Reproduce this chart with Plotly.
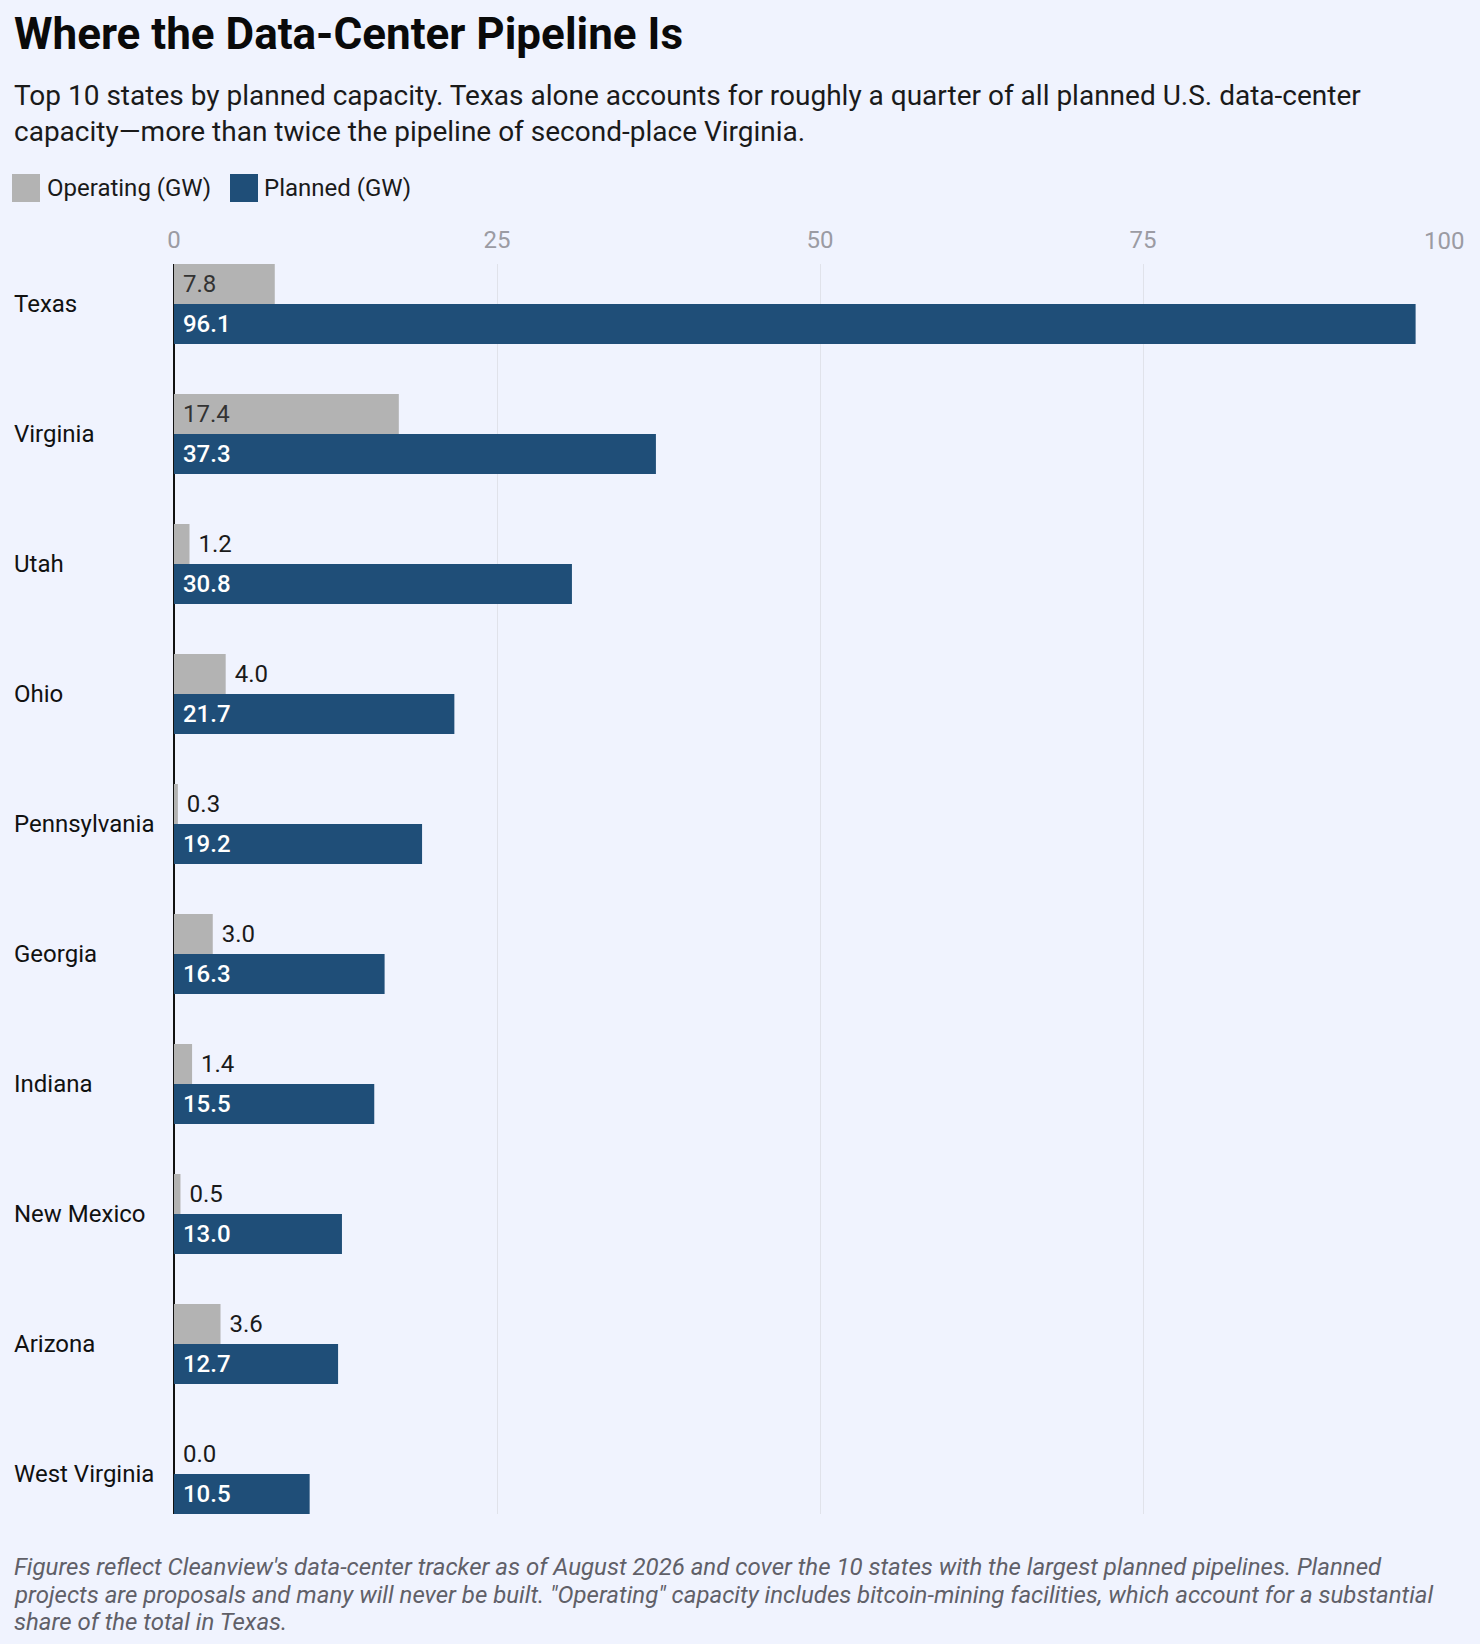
import plotly.graph_objects as go

# Data (GW), top 10 states by planned capacity
states = ["Texas", "Virginia", "Utah", "Ohio", "Pennsylvania", "Georgia",
          "Indiana", "New Mexico", "Arizona", "West Virginia"]
operating_gw = [7.8, 17.4, 1.2, 4.0, 0.3, 3.0, 1.4, 0.5, 3.6, 0.0]
planned_gw = [96.1, 37.3, 30.8, 21.7, 19.2, 16.3, 15.5, 13.0, 12.7, 10.5]
x_ticks = [0, 25, 50, 75, 100]
x_tick_text = ["0", "25", "50", "75", ""]  # "100" drawn right-aligned below

TITLE = "Where the Data-Center Pipeline Is"
SUBTITLE = ("Top 10 states by planned capacity. Texas alone accounts for roughly a quarter of all "
            "planned U.S. data-center<br>capacity\u2014more than twice the pipeline of second-place Virginia.")
NOTE_LINES = [
    "Figures reflect Cleanview's data-center tracker as of August 2026 and cover the 10 states with "
    "the largest planned pipelines. Planned",
    "projects are proposals and many will never be built. \"Operating\" capacity includes "
    "bitcoin-mining facilities, which account for a substantial",
    "share of the total in Texas.",
]

# Styling
FONT = "Roboto"
BG = "#f0f3fe"
GREY = "#b3b3b3"
BLUE = "#1f4e78"
W, H = 1480, 1644
PLOT_L, PLOT_R, PLOT_T, PLOT_B = 174, 1466, 264, 1514


def px_x(px):
    return (px - PLOT_L) / (PLOT_R - PLOT_L)


def px_y(py):
    return (PLOT_B - py) / (PLOT_B - PLOT_T)


fig = go.Figure()

fig.add_trace(go.Bar(
    y=states, x=operating_gw, orientation="h", name="Operating (GW)",
    marker=dict(color=GREY, line=dict(width=0)),
    text=[f"\u00a0{v:.1f}" for v in operating_gw],
    textposition=["inside" if v >= 5 else "outside" for v in operating_gw],
    insidetextanchor="start", textangle=0, constraintext="none",
    insidetextfont=dict(family=FONT, size=24, color="#333333"),
    outsidetextfont=dict(family=FONT, size=24, color="#1a1a1a"),
    cliponaxis=False, hoverinfo="skip",
))

fig.add_trace(go.Bar(
    y=states, x=planned_gw, orientation="h", name="Planned (GW)",
    marker=dict(color=BLUE, line=dict(width=0)),
    text=[f"\u00a0{v:.1f}" for v in planned_gw],
    textposition="inside",
    insidetextanchor="start", textangle=0, constraintext="none",
    insidetextfont=dict(family=FONT, size=24, color="#ffffff", weight=500),
    cliponaxis=False, hoverinfo="skip",
))

annotations = [
    dict(text=TITLE, xref="paper", yref="paper", x=px_x(12), y=px_y(34),
         xanchor="left", yanchor="middle", showarrow=False,
         font=dict(family=FONT, size=44, color="#0a0a0a", weight=700)),
    dict(text=SUBTITLE, xref="paper", yref="paper", x=px_x(12), y=px_y(114),
         xanchor="left", yanchor="middle", align="left", showarrow=False,
         font=dict(family=FONT, size=28, color="#1a1a1a")),
    dict(text="Operating (GW)", xref="paper", yref="paper", x=px_x(45), y=px_y(188),
         xanchor="left", yanchor="middle", showarrow=False,
         font=dict(family=FONT, size=24, color="#1a1a1a")),
    dict(text="Planned (GW)", xref="paper", yref="paper", x=px_x(262), y=px_y(188),
         xanchor="left", yanchor="middle", showarrow=False,
         font=dict(family=FONT, size=24, color="#1a1a1a")),
    dict(text="100", xref="x", yref="paper", x=x_ticks[-1], y=px_y(241),
         xanchor="right", yanchor="middle", showarrow=False,
         font=dict(family=FONT, size=24, color="#9b9ba3")),
]

# footnote, one annotation per line for tighter leading
for i, line in enumerate(NOTE_LINES):
    annotations.append(dict(text=line, xref="paper", yref="paper", x=px_x(12),
                            y=px_y(1567 + i * 27.5), xanchor="left", yanchor="middle",
                            showarrow=False,
                            font=dict(family=FONT, size=24, color="#606068", style="italic")))

# state names, left aligned
for s in states:
    annotations.append(dict(text=s, xref="paper", yref="y", x=px_x(12), y=s,
                            xanchor="left", yanchor="middle", showarrow=False,
                            font=dict(family=FONT, size=24, color="#111111")))

# legend swatches
shapes = [
    dict(type="rect", xref="paper", yref="paper", x0=px_x(12), x1=px_x(40),
         y0=px_y(202), y1=px_y(174), fillcolor=GREY, line=dict(width=0)),
    dict(type="rect", xref="paper", yref="paper", x0=px_x(230), x1=px_x(258),
         y0=px_y(202), y1=px_y(174), fillcolor=BLUE, line=dict(width=0)),
]

half = 0.6154 / 2
fig.update_layout(
    width=W, height=H,
    margin=dict(l=PLOT_L, r=W - PLOT_R, t=PLOT_T, b=H - PLOT_B, pad=0),
    paper_bgcolor=BG, plot_bgcolor=BG,
    barmode="group", bargap=0.3846, bargroupgap=0,
    showlegend=False,
    font=dict(family=FONT, size=24, color="#111111"),
    annotations=annotations, shapes=shapes,
    xaxis=dict(range=[0, 100], side="top", tickvals=x_ticks, ticktext=x_tick_text,
               tickfont=dict(family=FONT, size=24, color="#9b9ba3"),
               ticklabelstandoff=10,
               showgrid=True, gridcolor="#e0e2ea", gridwidth=1,
               zeroline=True, zerolinecolor="#111111", zerolinewidth=2,
               showline=False, ticks="", fixedrange=True),
    yaxis=dict(type="category", range=[len(states) - 1 + half, -half],
               showticklabels=False, showgrid=False, zeroline=False,
               showline=False, ticks="", fixedrange=True),
)

fig.write_html("out.html", config={"displayModeBar": False},
               post_script="document.body.style.margin='0';")
